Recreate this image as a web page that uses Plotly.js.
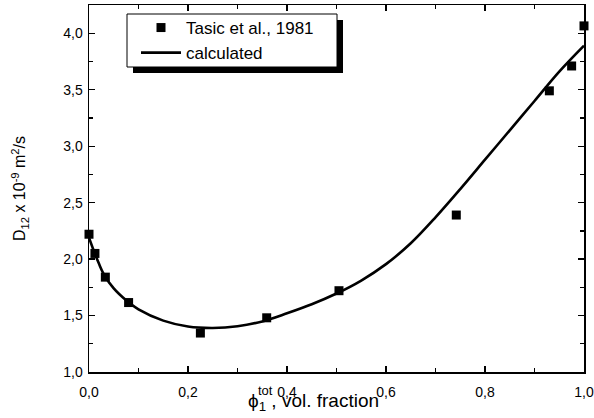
<!DOCTYPE html>
<html>
<head>
<meta charset="utf-8">
<script src="https://cdn.plot.ly/plotly-3.0.1.min.js"></script>
<style>html,body{margin:0;padding:0;background:#fff;}</style>
</head>
<body>
<div id="chart" style="width:594px;height:418px;"></div>
<script>
// Experimental data (Tasic et al., 1981)
const expX = [0.0, 0.012, 0.033, 0.080, 0.225, 0.359, 0.505, 0.742, 0.930, 0.975, 1.0];
const expY = [2.22, 2.05, 1.84, 1.615, 1.345, 1.48, 1.72, 2.39, 3.49, 3.71, 4.065];
// Calculated curve
const calcX = [0.0, 0.01, 0.02, 0.03, 0.05, 0.075, 0.1, 0.15, 0.2, 0.25, 0.3, 0.35, 0.4, 0.45, 0.5, 0.55, 0.6, 0.65, 0.7, 0.75, 0.8, 0.85, 0.9, 0.95, 1.0];
const calcY = [2.19, 2.07, 1.96, 1.865, 1.74, 1.635, 1.555, 1.455, 1.403, 1.39, 1.405, 1.448, 1.52, 1.60, 1.695, 1.81, 1.955, 2.14, 2.37, 2.62, 2.88, 3.14, 3.40, 3.66, 3.89];
const seriesNames = ['Tasic et al., 1981', 'calculated'];
const xTitleMain = '\u03D5<sub>1</sub> , vol. fraction';
const xTitleSup = 'tot';
const yTitle = 'D<sub>12</sub> x 10<sup>-9</sup> m<sup>2</sup>/s';

const FONT = '"Liberation Sans", Arial, sans-serif';

const traces = [
  {x: expX, y: expY, mode: 'markers', type: 'scatter', name: seriesNames[0],
   marker: {symbol: 'square', size: 9, color: '#000'}, cliponaxis: false},
  {x: calcX, y: calcY, mode: 'lines', type: 'scatter', name: seriesNames[1],
   line: {color: '#000', width: 2.6, shape: 'spline', smoothing: 1}}
];

const axisCommon = {
  showline: true, linecolor: '#000', linewidth: 1.5, mirror: 'allticks',
  ticks: 'inside', ticklen: 6, tickwidth: 1.3, tickcolor: '#000',
  showgrid: false, zeroline: false, tickformat: '.1f',
  tickfont: {family: FONT, size: 14, color: '#000'}
};

// pixel -> paper helpers (plot area: x 89..584, y 5..372)
const px = p => (p - 89) / 495;
const py = p => (372 - p) / 367;

const layout = {
  width: 594, height: 418,
  margin: {l: 89, r: 10, t: 5, b: 46},
  paper_bgcolor: '#fff', plot_bgcolor: '#fff',
  separators: ', ',
  font: {family: FONT, color: '#000'},
  xaxis: Object.assign({}, axisCommon, {
    range: [0, 1], dtick: 0.2, tick0: 0, ticklabelstandoff: 7,
    minor: {ticks: 'inside', dtick: 0.1, ticklen: 4, tickwidth: 1.3, tickcolor: '#000', showgrid: false}
  }),
  yaxis: Object.assign({}, axisCommon, {
    range: [1, 4.25], dtick: 0.5, tick0: 1, ticklabelstandoff: 2,
    minor: {ticks: 'inside', dtick: 0.25, ticklen: 4, tickwidth: 1.3, tickcolor: '#000', showgrid: false},
    title: {text: yTitle, font: {family: FONT, size: 16, color: '#000'}, standoff: 33}
  }),
  showlegend: true,
  legend: {
    x: px(136), y: py(10), xanchor: 'left', yanchor: 'top',
    bgcolor: 'rgba(0,0,0,0)', borderwidth: 0,
    font: {family: FONT, size: 17, color: '#000'},
    tracegroupgap: 0, itemwidth: 40
  },
  shapes: [
    {type: 'rect', xref: 'paper', yref: 'paper', layer: 'above',
     x0: px(133), x1: px(343), y0: py(73), y1: py(20),
     fillcolor: '#000', line: {width: 0}},
    {type: 'rect', xref: 'paper', yref: 'paper', layer: 'above',
     x0: px(127), x1: px(337), y0: py(67), y1: py(14),
     fillcolor: '#fff', line: {color: '#000', width: 1}}
  ],
  annotations: [
    {text: xTitleMain, xref: 'paper', yref: 'paper', x: px(246), y: py(402),
     xanchor: 'left', yanchor: 'middle', showarrow: false,
     font: {family: FONT, size: 19, color: '#000'}},
    {text: xTitleSup, xref: 'paper', yref: 'paper', x: px(256), y: py(390),
     xanchor: 'left', yanchor: 'middle', showarrow: false,
     font: {family: FONT, size: 13, color: '#000'}}
  ]
};

Plotly.newPlot('chart', traces, layout, {displayModeBar: false, staticPlot: true});
</script>
</body>
</html>
